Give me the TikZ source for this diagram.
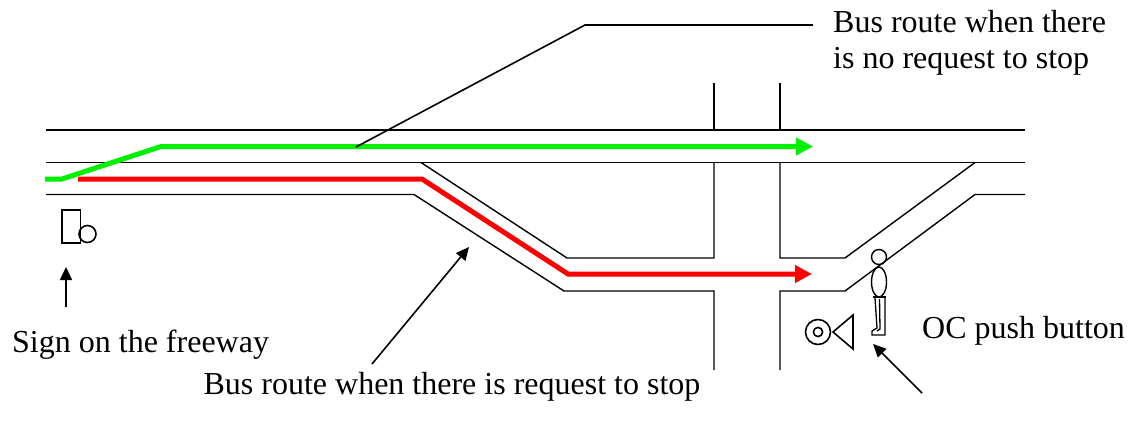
\documentclass[tikz,border=0pt]{standalone}
\usepackage{fontspec}
\setmainfont{Liberation Serif}
\usetikzlibrary{arrows.meta}
\definecolor{routegreen}{RGB}{0,240,0}
\definecolor{routered}{RGB}{255,0,0}
\begin{document}
\begin{tikzpicture}[x=1pt,y=-1pt,
  road/.style={line width=1.4pt,black,line join=miter},
  route/.style={line width=5pt,-{Triangle[length=17pt,width=17pt]}},
  pointer/.style={line width=1.6pt,-{Triangle[length=13pt,width=12pt]}},
  leader/.style={line width=1.6pt},
  symbol/.style={line width=1.6pt},
  lbl/.style={inner sep=0pt,anchor=base west,font=\fontsize{32}{36}\selectfont}]
\useasboundingbox (0,0) rectangle (1147,423);

% freeway and the branch towards the bus stop
\draw[road] (46,130) -- (1025,130);
\draw[road] (46,162.5) -- (1025,162.5);
\draw[road] (46,194.5) -- (414,194.5) -- (564,291) -- (714,291) -- (714,370);
\draw[road] (421,162.5) -- (567,258) -- (714,258) -- (714,162.5);
\draw[road] (714,83) -- (714,130);
\draw[road] (780,83) -- (780,130);
\draw[road] (780,162.5) -- (780,258) -- (845,258) -- (975,162.5);
\draw[road] (780,370) -- (780,291) -- (845,291) -- (975,194.5) -- (1025,194.5);

% bus routes
\draw[route,routered] (78,179) -- (422,179) -- (568,274) -- (812,274);
\draw[route,routegreen] (45,179) -- (62,179) -- (161,146.5) -- (813,146.5);

% sign on the freeway
\draw[symbol] (62,210) rectangle (80.5,243);
\draw[symbol] (87.5,234) circle (8.5);
\coordinate (signTail) at (66,307);
\coordinate (signTip) at (66,267);
\draw[pointer] (signTail) -- (signTip);

% push button
\draw[symbol] (818,332) circle (12.5);
\draw[symbol] (818,332) circle (4.6);
\draw[symbol,line join=miter] (833,332) -- (853,315) -- (853,349) -- cycle;

% pedestrian
\draw[line width=1.4pt] (879,257) circle (7.5);
\draw[line width=1.4pt] (879,282) ellipse (7.5 and 15);
\draw[line width=1.3pt] (873,297) -- (886,297);
\draw[line width=1.3pt] (875,298) -- (877,328) -- (872,331) -- (872,335) -- (885,335) -- (885,298);
\draw[line width=1.3pt] (879.5,299) -- (880,329) -- (877,331);

% labels
\node[lbl] (noStopA) at (833,32) {Bus route when there};
\node[lbl] (noStopB) at (833,68) {is no request to stop};
\node[lbl] (signLbl) at (12,352) {Sign on the freeway};
\node[lbl,anchor=base] (stopLbl) at (452,394) {Bus route when there is request to stop};
\node[lbl] (btnLbl) at (922,338) {OC push button};

% leader lines and pointers
\coordinate (greenPt) at (356,147);
\coordinate (bend) at (585,25);
\coordinate (leadEnd) at (813,25);
\draw[leader] (greenPt) -- (bend) -- (leadEnd);
\coordinate (stopTail) at (372,364);
\coordinate (stopTip) at (469,247);
\draw[pointer] (stopTail) -- (stopTip);
\coordinate (btnTail) at (922,393);
\coordinate (btnTip) at (873,344);
\draw[pointer] (btnTail) -- (btnTip);
\end{tikzpicture}
\end{document}
